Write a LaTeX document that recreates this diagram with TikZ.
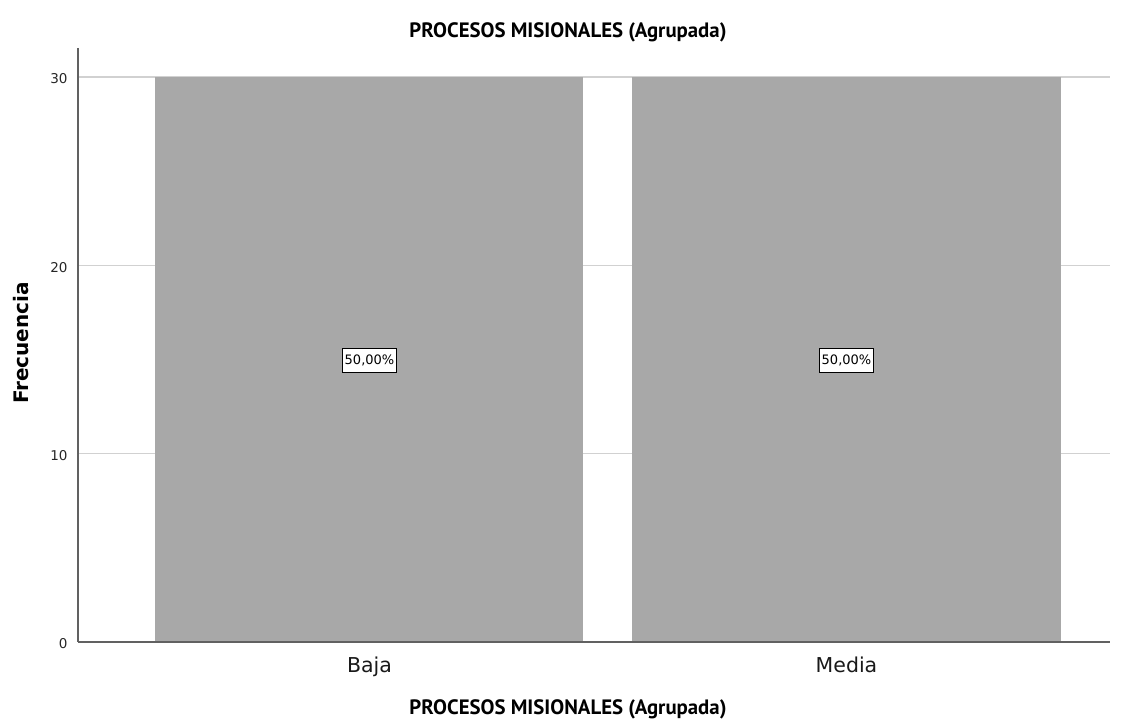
\documentclass[tikz,border=0pt]{standalone}
\usepackage{fontspec}
\setmainfont{DejaVu Sans}
\newfontfamily\titlefont{PT Sans}
\begin{document}
\begin{tikzpicture}[x=1pt,y=-1pt,
  grid/.style={draw=black!18,line width=1.5pt},
  axisline/.style={draw=black!62,line width=1.6pt},
  bar/.style={fill=black!34,draw=none},
  pct/.style={draw=black,fill=white,line width=0.9pt,inner xsep=2pt,inner ysep=0pt,minimum height=24pt,font=\fontsize{13}{14}\selectfont},
  tick/.style={anchor=east,font=\fontsize{13.5}{14}\selectfont,text=black!85},
  cat/.style={anchor=base,font=\fontsize{20.5}{22}\selectfont,text=black!90},
  ttl/.style={font=\titlefont\bfseries\fontsize{20.8}{22}\selectfont}]
\useasboundingbox (0,0) rectangle (1125,722);
% grid
\draw[grid] (78,77) -- (1110,77);
\draw[grid] (78,265.3) -- (1110,265.3);
\draw[grid] (78,453.7) -- (1110,453.7);
% bars
\fill[bar] (155,77) rectangle (583,642);
\fill[bar] (632,77) rectangle (1061,642);
% axes
\draw[axisline] (78,48) -- (78,642);
\draw[axisline] (78,642) -- (1110,642);
% tick labels
\node[tick] (t30) at (71,79) {30};
\node[tick] (t20) at (71,267.3) {20};
\node[tick] (t10) at (71,455.7) {10};
\node[tick] (t0) at (71,644) {0};
% percentage labels
\node[pct] (p1) at (369.5,360.5) {50,00\%};
\node[pct] (p2) at (846.5,360.5) {50,00\%};
% category labels
\node[cat] (c1) at (369.5,672) {Baja};
\node[cat] (c2) at (846.5,672) {Media};
% titles
\node[ttl] (title) at (568,32) {PROCESOS MISIONALES (Agrupada)};
\node[ttl] (xt) at (568,709) {PROCESOS MISIONALES (Agrupada)};
\node[rotate=90,font=\bfseries\fontsize{20}{21}\selectfont] (yt) at (21,343) {Frecuencia};
\end{tikzpicture}
\end{document}
